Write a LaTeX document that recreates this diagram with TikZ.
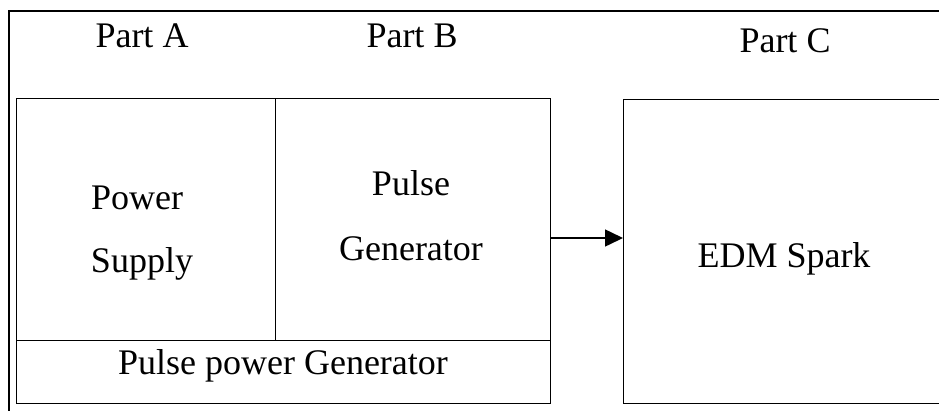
\documentclass[tikz,border=0pt]{standalone}
\usepackage{fontspec}
\setmainfont{Liberation Serif}
\usetikzlibrary{arrows.meta}
\tikzset{
  block/.style={draw, line width=1pt, inner sep=0pt, outer sep=0pt},
  txt/.style={anchor=base, inner sep=0pt, font=\fontsize{36}{40}\selectfont},
}
\begin{document}
\begin{tikzpicture}[x=1pt,y=-1pt]
  \useasboundingbox (0,0) rectangle (939,410);
  % outer frame
  \draw[line width=2pt] (9,420) -- (9,11) -- (950,11);
  % blocks
  \node[block, minimum width=259pt, minimum height=242pt] (supply) at (145.5,219) {};
  \node[block, minimum width=275pt, minimum height=242pt] (pulsegen) at (412.5,219) {};
  \node[block, minimum width=534pt, minimum height=63pt] (pulsepower) at (283,371.5) {};
  \node[block, minimum width=330pt, minimum height=304pt] (edm) at (788,251) {};
  % labels
  \node[txt] (parta) at (142,47) {Part A};
  \node[txt] (partb) at (412,47) {Part B};
  \node[txt] (partc) at (785,52) {Part C};
  \node[txt] (power) at (137,209) {Power};
  \node[txt] (supplytxt) at (142,272) {Supply};
  \node[txt] (pulse) at (411,195) {Pulse};
  \node[txt] (generator) at (411,260) {Generator};
  \node[txt] (spark) at (784,267) {EDM Spark};
  \node[txt] (pptxt) at (283,374) {Pulse power Generator};
  % connector
  \coordinate (out) at (pulsegen.east |- 0,238);
  \draw[-{Triangle[length=18pt,width=17pt]}, line width=1.5pt] (out) -- (out -| edm.west);
\end{tikzpicture}
\end{document}
